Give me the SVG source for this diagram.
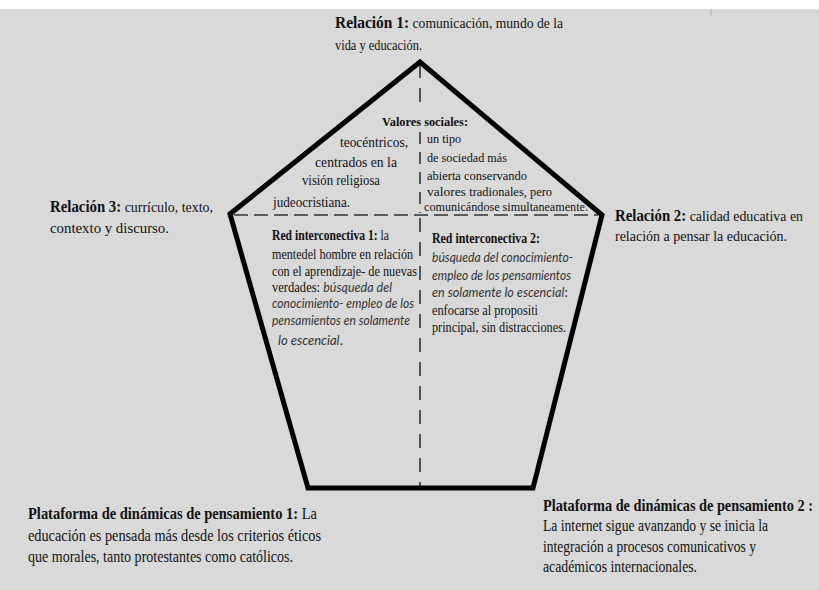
<svg xmlns="http://www.w3.org/2000/svg" width="819" height="590" viewBox="0 0 819 590">
<defs>
<style>
.t{font-family:"Liberation Serif","Times New Roman",serif;fill:#111;}
.b{font-weight:bold;}
.i{font-family:Lato,"Noto Sans",sans-serif;font-style:italic;fill:#333;}
.s16{font-size:16px;}
.s15{font-size:15px;}
.s14{font-size:14px;}
.s13{font-size:13px;}
.dash{stroke:#333;stroke-width:1.6;fill:none;}
</style>
</defs>
<rect x="0" y="0" width="819" height="590" fill="#d9d9d9"/>
<rect x="0" y="0" width="819" height="9" fill="#ffffff"/>
<line x1="711" y1="9" x2="711" y2="16" stroke="#bdbdbd" stroke-width="1.5"/>
<line x1="713" y1="12" x2="819" y2="12" stroke="#cfcfcf" stroke-width="1"/>

<g id="connectors">
<line class="dash" x1="234" y1="215" x2="598" y2="215" stroke-dasharray="14 6"/>
<line class="dash" x1="420" y1="64" x2="420" y2="112" stroke-dasharray="14 10"/>
<line class="dash" x1="420" y1="132" x2="420" y2="213" stroke-dasharray="12 8"/>
<line class="dash" x1="420" y1="218" x2="420" y2="486" stroke-dasharray="14 10"/>
</g>

<g id="pentagon">
<polygon points="420,62 230,214 308,488 533,488 602,215" fill="none" stroke="#000" stroke-width="5" stroke-linejoin="miter"/>
</g>

<g id="relacion1">
<text class="t s15" x="335" y="28" textLength="228" lengthAdjust="spacingAndGlyphs"><tspan class="b" font-size="17">Relación 1:</tspan> comunicación, mundo de la</text>
<text class="t s15" x="335" y="50" textLength="87" lengthAdjust="spacingAndGlyphs">vida y educación.</text>
</g>

<g id="valores">
<text class="t b s13" x="382" y="126" textLength="86" lengthAdjust="spacingAndGlyphs">Valores sociales:</text>
<text class="t s15" x="340" y="147" textLength="68" lengthAdjust="spacingAndGlyphs">teocéntricos,</text>
<text class="t s15" x="315" y="167" textLength="82" lengthAdjust="spacingAndGlyphs">centrados en la</text>
<text class="t s15" x="302" y="185" textLength="78" lengthAdjust="spacingAndGlyphs">visión religiosa</text>
<text class="t s15" x="273" y="207" textLength="77" lengthAdjust="spacingAndGlyphs">judeocristiana.</text>
<text class="t s13" x="427" y="143" textLength="34" lengthAdjust="spacingAndGlyphs">un tipo</text>
<text class="t s13" x="427" y="162" textLength="80" lengthAdjust="spacingAndGlyphs">de sociedad más</text>
<text class="t s13" x="427" y="180" textLength="100" lengthAdjust="spacingAndGlyphs">abierta conservando</text>
<text class="t s13" x="427" y="196" textLength="125" lengthAdjust="spacingAndGlyphs">valores  <tspan font-size="12">tradionales, pero</tspan></text>
<text class="t s13" x="424" y="211" textLength="164" lengthAdjust="spacingAndGlyphs">comunicándose simultaneamente.</text>
</g>

<g id="red1">
<text class="t s14" x="272" y="240" textLength="117" lengthAdjust="spacingAndGlyphs"><tspan class="b">Red interconectiva 1:</tspan> la</text>
<text class="t s14" x="272" y="259" textLength="141" lengthAdjust="spacingAndGlyphs">mentedel hombre en relación</text>
<text class="t s14" x="272" y="276" textLength="145" lengthAdjust="spacingAndGlyphs">con el aprendizaje- de nuevas</text>
<text class="t s14" x="272" y="292" textLength="120" lengthAdjust="spacingAndGlyphs">verdades: <tspan class="i">búsqueda del</tspan></text>
<text class="t i s13" x="272" y="308" textLength="142" lengthAdjust="spacingAndGlyphs">conocimiento- empleo de los</text>
<text class="t i s13" x="272" y="325" textLength="138" lengthAdjust="spacingAndGlyphs">pensamientos en solamente</text>
<text class="t s14" x="278" y="345" textLength="65" lengthAdjust="spacingAndGlyphs"><tspan class="i" font-size="13">lo  escencial</tspan>.</text>
</g>

<g id="red2">
<text class="t b s14" x="432" y="243" textLength="108" lengthAdjust="spacingAndGlyphs">Red  interconectiva 2:</text>
<text class="t i s13" x="432" y="262" textLength="141" lengthAdjust="spacingAndGlyphs">búsqueda del conocimiento-</text>
<text class="t i s13" x="432" y="280" textLength="139" lengthAdjust="spacingAndGlyphs">empleo de los pensamientos</text>
<text class="t s14" x="432" y="297" textLength="136" lengthAdjust="spacingAndGlyphs"><tspan class="i" font-size="13">en solamente lo escencial</tspan>:</text>
<text class="t s14" x="432" y="315" textLength="106" lengthAdjust="spacingAndGlyphs">enfocarse al propositi</text>
<text class="t s14" x="432" y="332" textLength="134" lengthAdjust="spacingAndGlyphs">principal, sin distracciones.</text>
</g>

<g id="relacion3">
<text class="t s15" x="50" y="212" textLength="163" lengthAdjust="spacingAndGlyphs"><tspan class="b" font-size="16">Relación 3:</tspan> currículo, texto,</text>
<text class="t s15" x="50" y="233" textLength="119" lengthAdjust="spacingAndGlyphs">contexto y discurso.</text>
</g>

<g id="relacion2">
<text class="t s15" x="615" y="221" textLength="188" lengthAdjust="spacingAndGlyphs"><tspan class="b" font-size="16">Relación 2:</tspan> calidad educativa en</text>
<text class="t s15" x="615" y="241" textLength="172" lengthAdjust="spacingAndGlyphs">relación a pensar la educación.</text>
</g>

<g id="plataforma1">
<text class="t s16" x="28" y="519" textLength="289" lengthAdjust="spacingAndGlyphs"><tspan class="b">Plataforma  de dinámicas de pensamiento 1:</tspan> La</text>
<text class="t s16" x="28" y="541" textLength="293" lengthAdjust="spacingAndGlyphs">educación es pensada más  desde los criterios éticos</text>
<text class="t s16" x="28" y="562" textLength="265" lengthAdjust="spacingAndGlyphs">que morales, tanto protestantes como católicos.</text>
</g>

<g id="plataforma2">
<text class="t b s16" x="543" y="511" textLength="270" lengthAdjust="spacingAndGlyphs">Plataforma  de dinámicas de pensamiento 2 :</text>
<text class="t s16" x="543" y="531" textLength="225" lengthAdjust="spacingAndGlyphs">La internet sigue avanzando y se inicia la</text>
<text class="t s16" x="543" y="552" textLength="213" lengthAdjust="spacingAndGlyphs">integración a procesos comunicativos y</text>
<text class="t s16" x="543" y="572" textLength="154" lengthAdjust="spacingAndGlyphs">académicos internacionales.</text>
</g>
</svg>
